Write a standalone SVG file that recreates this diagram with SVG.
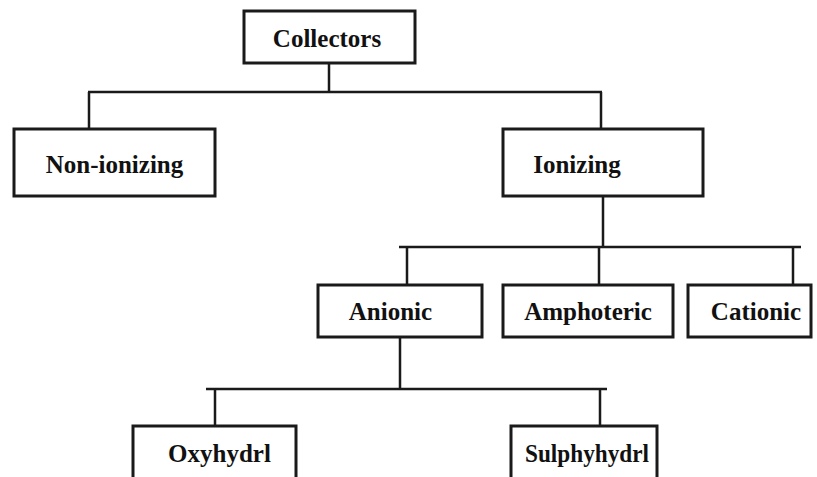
<svg xmlns="http://www.w3.org/2000/svg" width="817" height="477" viewBox="0 0 817 477">
<style>
.box{fill:#fff;stroke:#1a1a1a;stroke-width:3}
.lbl{font-family:"Liberation Serif","Times New Roman",serif;font-weight:bold;font-size:25px;fill:#111;text-anchor:middle}
.ln{stroke:#1a1a1a;stroke-width:2.5;fill:none}
</style>
<rect width="817" height="477" fill="#fff"/>
<g id="connectors">
<path class="ln" d="M329 63V92M88 92H602M89 92V129M601 92V129"/>
<path class="ln" d="M603 196V247M399 247H801M407 247V285M599 247V285M793 247V285"/>
<path class="ln" d="M400 337V389M206 389H607M215 389V426M600 389V426"/>
</g>
<g id="collectors"><rect class="box" x="244" y="11" width="171" height="52"/><text class="lbl" x="327" y="47">Collectors</text></g>
<g id="non-ionizing"><rect class="box" x="14" y="129" width="201" height="67"/><text class="lbl" x="114.5" y="173">Non-ionizing</text></g>
<g id="ionizing"><rect class="box" x="503" y="129" width="200" height="67"/><text class="lbl" x="577" y="173">Ionizing</text></g>
<g id="anionic"><rect class="box" x="318" y="285" width="164" height="52"/><text class="lbl" x="390.5" y="320">Anionic</text></g>
<g id="amphoteric"><rect class="box" x="503" y="285" width="170" height="52"/><text class="lbl" x="588" y="320">Amphoteric</text></g>
<g id="cationic"><rect class="box" x="688" y="285" width="123" height="52"/><text class="lbl" x="756" y="320">Cationic</text></g>
<g id="oxyhydrl"><rect class="box" x="133" y="426" width="163" height="70"/><text class="lbl" x="219.5" y="462">Oxyhydrl</text></g>
<g id="sulphyhydrl"><rect class="box" x="511" y="426" width="146" height="70"/><text class="lbl" x="587" y="462" textLength="124" lengthAdjust="spacingAndGlyphs">Sulphyhydrl</text></g>
</svg>
